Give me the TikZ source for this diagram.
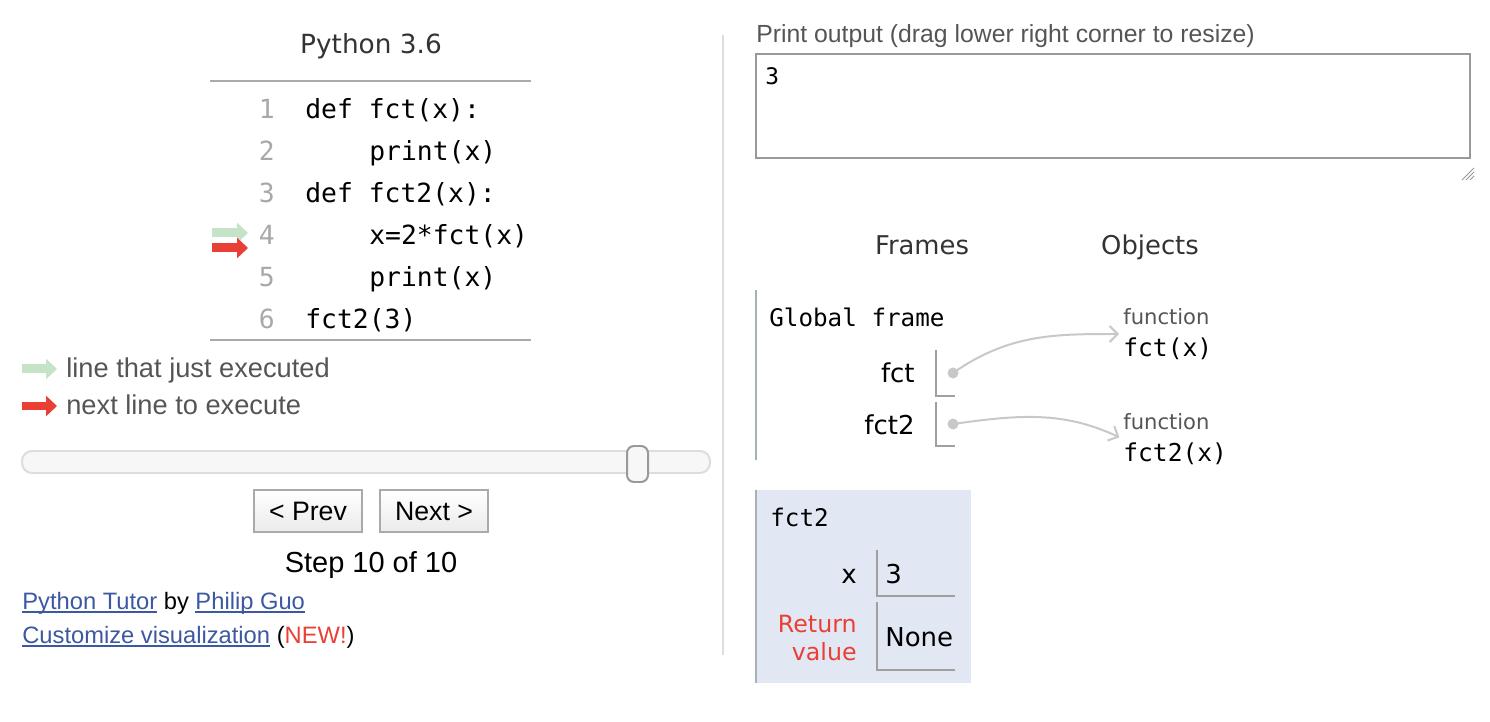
\documentclass[tikz,border=0pt]{standalone}
\usepackage{fontspec}
\setmainfont{Liberation Sans}
\setmonofont{DejaVu Sans Mono}
\newfontfamily\verdfont{DejaVu Sans}
\usetikzlibrary{positioning}
\usetikzlibrary{arrows.meta}
\definecolor{txtgray}{HTML}{333333}
\definecolor{numgray}{HTML}{A8A8A8}
\definecolor{legendgray}{HTML}{555555}
\definecolor{rulegray}{HTML}{AAAAAA}
\definecolor{justgreen}{HTML}{C5E3C6}
\definecolor{nextred}{HTML}{E93F34}
\definecolor{linkblue}{HTML}{3D58A2}
\definecolor{framebg}{HTML}{E2E8F3}
\definecolor{frameedge}{HTML}{A6B3B6}
\definecolor{ptrgray}{HTML}{C8C8C8}
\definecolor{cellgray}{HTML}{A0A0A0}
\definecolor{boxgray}{HTML}{999999}
\definecolor{divgray}{HTML}{DDDDDD}
\newcommand\lnk[1]{{\color{linkblue}\setbox0\hbox{#1}\rlap{\rule[-2.2pt]{\wd0}{0.9pt}}\box0}}
\tikzset{
    title/.style = {anchor=base, inner sep=0, text=txtgray, font=\verdfont\fontsize{15}{18}\selectfont},
    lnum/.style = {anchor=base east, inner sep=0, text=numgray, font=\ttfamily\fontsize{15}{18}\selectfont},
    code/.style = {anchor=base west, inner sep=0, text=black, font=\ttfamily\fontsize{15}{18}\selectfont},
    legend/.style = {anchor=base west, inner sep=0, text=legendgray, font=\fontsize{15.5}{18}\selectfont},
    linktext/.style = {anchor=base west, inner sep=0, text=black, font=\fontsize{13.5}{16}\selectfont},
    button/.style = {draw=rulegray, thick, top color=white, bottom color=black!8, minimum width=2.16cm, minimum height=0.84cm, inner sep=0, font=\fontsize{15.2}{18}\selectfont},
    justarrow/.style = {line width=0.18cm, justgreen, -{Triangle[length=0.22cm, width=0.4cm]}},
    nextarrow/.style = {line width=0.18cm, nextred, -{Triangle[length=0.22cm, width=0.4cm]}},
    heading/.style = {anchor=base, inner sep=0, text=txtgray, font=\verdfont\fontsize{14.7}{18}\selectfont},
    frametitle/.style = {anchor=base west, inner sep=0, font=\ttfamily\fontsize{13.8}{16}\selectfont},
    varname/.style = {anchor=base east, inner sep=0, font=\verdfont\fontsize{14.8}{18}\selectfont},
    varval/.style = {anchor=base west, inner sep=0, font=\verdfont\fontsize{14.8}{18}\selectfont},
    cellline/.style = {cellgray, line width=0.04cm},
    frameline/.style = {frameedge, line width=0.05cm},
    dotp/.style = {circle, fill=ptrgray, minimum size=0.22cm, inner sep=0},
    objbox/.style = {anchor=west, align=left, inner sep=0, font=\ttfamily\fontsize{14}{18.1}\selectfont},
    pointer/.style = {ptrgray, line width=0.04cm, -{Straight Barb[length=0.16cm, width=0.32cm]}, shorten >=0.08cm},
}
\newcommand\fnlabel{{\verdfont\fontsize{12}{14}\selectfont\color{legendgray}function}}

\begin{document}
\begin{tikzpicture}[x=0.02cm, y=-0.02cm]
\useasboundingbox (0,0) rectangle (1490,722);

% code listing
\node[title] (pyver) at (371,54) {Python 3.6};
\draw[rulegray, line width=0.04cm] (210,81) -- (531,81);
\draw[rulegray, line width=0.04cm] (210,340) -- (531,340);
\foreach \i/\ind/\t in {1/0/def fct(x):, 2/4/print(x), 3/0/def fct2(x):, 4/4/x=2*fct(x), 5/4/print(x), 6/0/fct2(3)} {
  \node[lnum] (ln\i) at (275,77+42*\i) {\i};
  \node[code] (code\i) at (305+16*\ind,77+42*\i) {\t};
}
\draw[justarrow] (212,233) -- (248,233);
\draw[nextarrow] (212,248) -- (248,248);

% legend
\draw[justarrow] (22,369) -- (57,369);
\node[legend] (lgdjust) at (66,378) {line that just executed};
\draw[nextarrow] (22,406) -- (57,406);
\node[legend] (lgdnext) at (66,415) {next line to execute};

% slider and buttons
\draw[divgray, fill=black!3, line width=0.04cm, rounded corners=0.2cm] (22,451) rectangle (710,473);
\draw[boxgray, fill=black!3, line width=0.04cm, rounded corners=0.14cm] (627,446) rectangle (648,482);
\node[button] (prev) at (308,511) {< Prev};
\node[button] (next) at (434,511) {Next >};
\node[title, text=black, font=\fontsize{16.5}{18}\selectfont] (step) at (371,572) {Step 10 of 10};
\node[linktext] (credit) at (22,609) {\lnk{Python Tutor} by \lnk{Philip Guo}};
\node[linktext] (custom) at (22,643) {\lnk{Customize visualization} (\textcolor{nextred}{NEW!})};

\draw[divgray, line width=0.04cm] (723,35) -- (723,655);

% print output
\node[anchor=base west, inner sep=0, text=legendgray, font=\fontsize{14.1}{16}\selectfont] (outlbl) at (756,43) {Print output (drag lower right corner to resize)};
\draw[boxgray, line width=0.04cm] (756,54) rectangle (1470,158);
\node[anchor=base west, inner sep=0, font=\ttfamily\fontsize{13}{16}\selectfont] (outval) at (765,85) {3};
\foreach \d in {0,4,8} \draw[boxgray, line width=0.02cm] (1462+\d,180) -- (1474,168+\d);

% frames and objects
\node[heading] (frames) at (922,255) {Frames};
\node[heading] (objects) at (1150,255) {Objects};

\draw[frameline] (756,290) -- (756,460);
\node[frametitle] (global) at (769,327) {Global frame};
\node[varname] (fctname) at (915,383) {fct};
\draw[cellline] (936,350) |- (955,396);
\node[dotp] (fctdot) at (953,373) {};
\node[varname] (fcttwoname) at (915,435) {fct2};
\draw[cellline] (936,402) |- (955,446);
\node[dotp] (fcttwodot) at (953,424) {};

\node[objbox] (fctobj) at (1123,334) {\fnlabel\\fct(x)};
\node[objbox] (fcttwoobj) at (1123,439) {\fnlabel\\fct2(x)};
\draw[pointer] (fctdot.center) to[out=35, in=180] (fctobj.west);
\draw[pointer] (fcttwodot.center) to[out=8, in=155] (fcttwoobj.west);

\fill[framebg] (755,490) rectangle (971,683);
\draw[frameline] (756,490) -- (756,683);
\node[frametitle] (fcttwoframe) at (770,526) {fct2};
\node[varname] (xname) at (857,583) {x};
\draw[cellline] (877,550) |- (955,596);
\node[varval] (xval) at (885,583) {3};
\node[varname, text=nextred, align=right, font=\verdfont\fontsize{13.5}{16.3}\selectfont, anchor=east] (retname) at (857,638) {Return\\value};
\draw[cellline] (877,602) |- (955,670);
\node[varval] (retval) at (885,646) {None};
\end{tikzpicture}
\end{document}
